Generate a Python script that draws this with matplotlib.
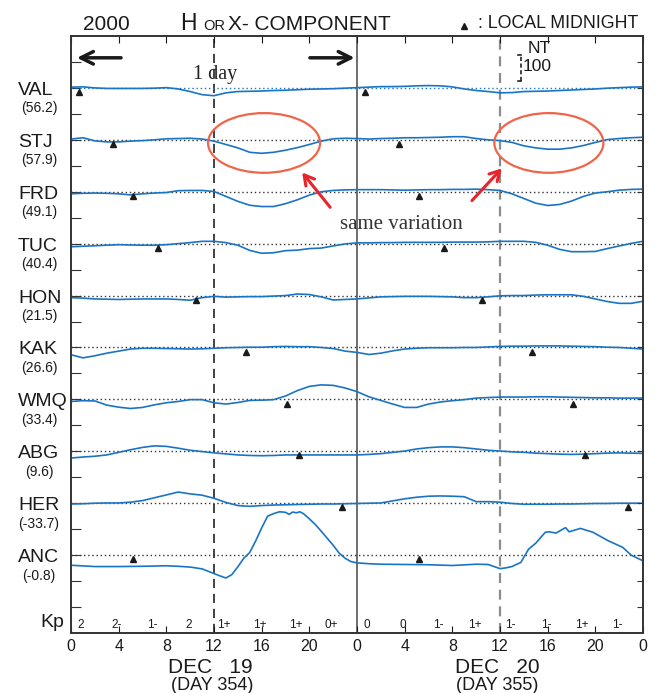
import matplotlib.pyplot as plt
import numpy as np
from matplotlib.patches import Ellipse

plt.rcParams['font.family'] = ['Liberation Sans', 'DejaVu Sans']

# stations, top to bottom, with their latitude
stations = ['VAL', 'STJ', 'FRD', 'TUC', 'HON', 'KAK', 'WMQ', 'ABG', 'HER', 'ANC']
lats = ['(56.2)', '(57.9)', '(49.1)', '(40.4)', '(21.5)', '(26.6)', '(33.4)', '(9.6)', '(-33.7)', '(-0.8)']
# UT hour of the first local midnight (second one is 24 h later)
midnight = [0.65, 3.5, 5.2, 7.3, 10.5, 14.7, 18.1, 19.1, 22.7, 5.2]

# H deviations in nT, hourly from 0 UT Dec 19 to 0 UT Dec 21
hours = np.arange(0, 49)
val = [3, 4, 0, -2, -2, -2, -2, -1, 1, -4, -14, -26, -30, -19, -14, -13, -12, -10, -9, -7,
       -5, -4, -3, -1, 1, 3, 5, 5, 6, 8, 9, 8, 4, -4, -10, -14, -19, -18, -14, -13,
       -12, -10, -8, -6, -4, -1, 1, 3, 4]
stj = [3, 8, -4, -8, -8, -5, -3, 0, 4, 5, 6, 3, -5, -18, -31, -48, -52, -48, -40, -30,
       -18, -5, 4, 6, 5, 3, 5, 6, 8, 8, 9, 10, 12, 12, 5, 0, -3, -10, -23, -31,
       -36, -36, -31, -22, -10, 1, 5, 8, 10]
frd = [-8, -6, -5, -6, -8, -12, -8, -5, -3, 4, 5, 5, 1, -18, -37, -52, -57, -57, -46, -31,
       -13, 0, 5, 7, 8, 8, 8, 7, 6, 7, 8, 8, 9, 9, 10, 8, 5, -8, -26, -44,
       -53, -49, -36, -18, -5, 0, 6, 9, 10]
tuc = [-12, -10, -8, -6, -4, -5, -6, -6, -4, 0, 4, 9, 9, 4, -6, -26, -37, -35, -27, -25,
       -19, -17, -9, -1, 3, 3, 4, 4, 5, 5, 5, 5, 6, 6, 6, 7, 9, 9, 9, 5,
       -6, -22, -31, -31, -30, -19, -9, 1, 9]
hon = [-8, -10, -13, -14, -15, -14, -13, -13, -13, -15, -18, -8, -3, -6, -5, -4, -4, -2, 0, 6,
       4, -5, -17, -15, -13, -9, -5, -4, -3, -3, -3, -4, -5, -8, -8, -5, -1, 0, 0, 2,
       3, 3, 3, -3, -13, -23, -30, -30, -22]
kak = [-28, -40, -32, -22, -14, -6, -3, -3, -4, -5, -6, -5, -3, -1, 0, 1, 1, 3, 4, 3,
       3, 0, -4, -14, -19, -27, -22, -13, -6, -3, -1, -1, -1, 0, 0, 2, 4, 5, 5, 6,
       6, 6, 5, 4, 3, 1, 0, -3, -6]
wmq = [-8, -5, -6, -22, -30, -35, -31, -21, -13, -8, -1, -1, -13, -18, -12, -4, -3, -1, 13, 34,
       50, 56, 54, 44, 30, 10, -4, -18, -31, -31, -18, -10, -5, -1, 5, 7, 9, 9, 9, 10,
       10, 9, 8, 7, 6, 6, 5, 5, 5]
abg = [-26, -22, -19, -14, -4, 6, 15, 21, 19, 12, 4, -1, -6, -10, -14, -16, -17, -16, -14, -14,
       -14, -14, -14, -14, -14, -12, -9, -4, 1, 9, 14, 17, 17, 14, 9, 4, 1, -2, -4, -7,
       -9, -11, -12, -11, -9, -7, -6, -7, -8]
her = [-3, -2, 0, 1, 1, 4, 10, 21, 32, 43, 36, 31, 19, 3, -9, -12, -9, -7, -6, -5,
       -4, -3, -3, -2, -1, 0, 1, 9, 17, 23, 27, 28, 27, 25, 6, 6, 4, -1, -4, -4,
       -4, -3, -3, -2, -1, -1, 0, 0, 0]
anc_hours = [0, 2, 4, 6, 8, 9, 10, 11, 11.5, 12, 12.5, 13, 13.5, 14, 14.5, 15, 15.5, 16, 16.5, 17,
             17.5, 18, 18.3, 18.6, 18.9, 19.2, 19.5, 20, 20.5, 21, 21.5, 22, 22.5, 23, 23.5, 24, 25, 26, 28, 30,
             32, 34, 35, 35.5, 36, 36.5, 37, 37.75, 38.4, 39, 39.8, 40.1, 40.7, 41.5, 41.8, 42.75, 43.8, 45.1, 46.3, 47,
             48]
anc = [-39, -44, -44, -43, -41, -43, -46, -53, -62, -71, -80, -88, -75, -45, -12, 10, 55, 105, 150, 160,
       167, 165, 157, 166, 163, 167, 160, 140, 118, 92, 65, 38, 8, -12, -25, -30, -33, -35, -36, -37,
       -40, -35, -36, -44, -52, -49, -44, -28, 23, 46, 88, 90, 85, 106, 90, 103, 88, 55, 30, 0,
       -22]
series = [val, stj, frd, tuc, hon, kak, wmq, abg, her]

kp = ['2', '2-', '1-', '2', '1+', '1+', '1+', '0+', '0', '0', '1-', '1+', '1-', '1-', '1+', '1-']
xtick_labels = ['0', '4', '8', '12', '16', '20', '0', '4', '8', '12', '16', '20', '0']

nt_per_row = 200.0   # 100 nT = half the spacing between baselines
blue = '#1a74c6'

fig = plt.figure(figsize=(6.6, 6.93), dpi=100)
ax = fig.add_axes([71 / 660, 1 - 633 / 693, 572 / 660, 597 / 693])
ax.set_xlim(0, 48)
ax.set_ylim(-10.5, 1.0)

# day / half-day markers
ax.axvline(24, color='#555555', lw=1.2, zorder=1)
ax.axvline(12, color='#222222', lw=1.2, dashes=(5.5, 3.5), zorder=1)
ax.axvline(36, color='#8c8c8c', lw=1.6, dashes=(4.5, 3), zorder=1)

for i, name in enumerate(stations):
    base = -i
    dot_col = blue if i == 0 else '#333333'
    ax.plot([0, 48], [base, base], color=dot_col, lw=1.0, ls=(0, (1, 2)), zorder=2)
    if i < len(series):
        ax.plot(hours, base + np.array(series[i]) / nt_per_row, color=blue, lw=1.2, zorder=3)
    else:
        ax.plot(anc_hours, base + np.array(anc) / nt_per_row, color=blue, lw=1.2, zorder=3)
    m = midnight[i]
    ax.plot([m, m + 24], [base - 0.08, base - 0.08], '^', color='#1a1a1a', ms=5, zorder=4)
    ax.text(-4.45, base - 0.135, name, fontsize=14, ha='left', va='baseline', color='#1a1a1a', clip_on=False)
    ax.text(-2.68, base - 0.47, lats[i], fontsize=10, ha='center', va='baseline', color='#1a1a1a', clip_on=False)

# Kp row
ax.text(-2.6, -10.38, 'Kp', fontsize=14, ha='left', va='baseline', color='#1a1a1a', clip_on=False)
for k, val_kp in enumerate(kp):
    ax.text(3 * k + 0.85, -10.4, val_kp, fontsize=8.5, ha='center', va='baseline', color='#1a1a1a')

# axes styling
ax.set_xticks(np.arange(0, 49, 4))
ax.set_xticklabels(xtick_labels, fontsize=11.5)
ax.tick_params(axis='x', direction='in', length=5, top=True, pad=4, colors='#1a1a1a')
ax.set_yticks(np.arange(-10, 0.6, 0.5))
ax.set_yticklabels([])
ax.tick_params(axis='y', direction='in', length=7, colors='#333333')
ax2 = ax.twinx()
ax2.set_ylim(ax.get_ylim())
ax2.set_yticks(np.arange(-10, 0.6, 0.5))
ax2.set_yticklabels([])
ax2.tick_params(axis='y', direction='in', length=4, colors='#333333')
for a in (ax, ax2):
    for s in a.spines.values():
        s.set_color('#333333')
        s.set_linewidth(1.2)

# date labels
ax.text(11.66, -11.27, 'DEC   19', fontsize=15, ha='center', va='baseline', color='#1a1a1a', clip_on=False)
ax.text(11.83, -11.6, '(DAY 354)', fontsize=13, ha='center', va='baseline', color='#1a1a1a', clip_on=False)
ax.text(35.74, -11.27, 'DEC   20', fontsize=15, ha='center', va='baseline', color='#1a1a1a', clip_on=False)
ax.text(35.74, -11.6, '(DAY 355)', fontsize=13, ha='center', va='baseline', color='#1a1a1a', clip_on=False)

# title row
ax.text(1.0, 1.115, '2000', fontsize=15, ha='left', va='baseline', color='#1a1a1a', clip_on=False)
ax.text(9.14, 1.115, 'H', fontsize=16.5, ha='left', va='baseline', color='#1a1a1a', clip_on=False)
ax.text(11.07, 1.115, 'OR', fontsize=10.5, ha='left', va='baseline', color='#1a1a1a', clip_on=False)
ax.text(13.17, 1.115, 'X- COMPONENT', fontsize=15, ha='left', va='baseline', color='#1a1a1a', clip_on=False)
ax.plot([32.97], [1.2], '^', color='#1a1a1a', ms=5, clip_on=False)
ax.text(34.14, 1.154, ': LOCAL MIDNIGHT', fontsize=12.8, ha='left', va='baseline', color='#1a1a1a', clip_on=False)

# 1 day arrows
arrow_kw = dict(arrowstyle='->,head_length=0.9,head_width=0.45', lw=2.5, color='#1a1a1a',
                shrinkA=0, shrinkB=0)
ax.annotate('', xy=(0.5, 0.58), xytext=(4.2, 0.58), arrowprops=arrow_kw)
ax.annotate('', xy=(23.8, 0.58), xytext=(20.05, 0.58), arrowprops=arrow_kw)
ax.text(12.08, 0.17, '1 day', fontsize=14.5, family='Liberation Serif', ha='center', va='baseline',
        color='#222222')

# 100 nT scale bar
ax.plot([37.75, 37.75], [0.135, 0.635], color='#222222', lw=1.2, dashes=(2.5, 1.5))
ax.plot([37.5, 37.75], [0.135, 0.135], color='#222222', lw=1.2)
ax.plot([37.5, 37.75], [0.635, 0.635], color='#222222', lw=1.2)
ax.text(38.3, 0.68, 'NT', fontsize=12.5, ha='left', va='baseline', color='#1a1a1a')
ax.text(37.9, 0.32, '100', fontsize=12.5, ha='left', va='baseline', color='#1a1a1a')

# highlighted variations
for cx, w in [(16.2, 9.4), (40.1, 9.15)]:
    ax.add_patch(Ellipse((cx, -1.06), w, 1.15, fill=False, ec='#f0654a', lw=1.6, zorder=5))
red_kw = dict(arrowstyle='->,head_length=0.7,head_width=0.4', lw=2.2, color='#e8232b',
              shrinkA=0, shrinkB=0)
ax.annotate('', xy=(19.4, -1.63), xytext=(21.75, -2.3), arrowprops=red_kw)
ax.annotate('', xy=(36.15, -1.55), xytext=(33.65, -2.17), arrowprops=red_kw)
ax.text(27.7, -2.71, 'same variation', fontsize=15, family='Liberation Serif', ha='center',
        va='baseline', color='#333333')

fig.savefig('out.png', dpi=100)
